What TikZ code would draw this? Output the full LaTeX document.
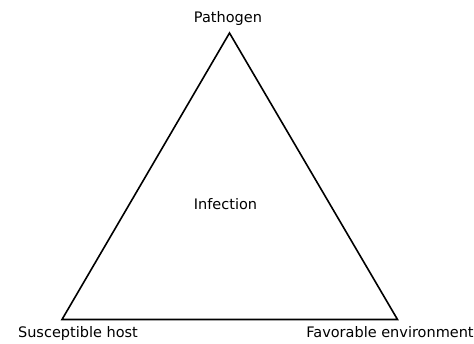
\documentclass[tikz,border=0pt]{standalone}
\usepackage{fontspec}
\setmainfont{DejaVu Sans}
\begin{document}
\begin{tikzpicture}[x=1pt,y=-1pt,
  lbl/.style={inner sep=0pt,anchor=base,font=\fontsize{14.5}{16}\selectfont},
  edge/.style={line width=1.6pt,line join=miter}]
\useasboundingbox (0,0) rectangle (474,344);
\coordinate (A) at (229.5,33);
\coordinate (B) at (62,319.5);
\coordinate (C) at (397.5,319.5);
\draw[edge] (A) -- (B) -- (C) -- cycle;
\node[lbl] (pathogen) at (228,23) {Pathogen};
\node[lbl] (infection) at (225.5,210) {Infection};
\node[lbl] (host) at (78,338) {Susceptible host};
\node[lbl] (env) at (390,338) {Favorable environment};
\end{tikzpicture}
\end{document}
